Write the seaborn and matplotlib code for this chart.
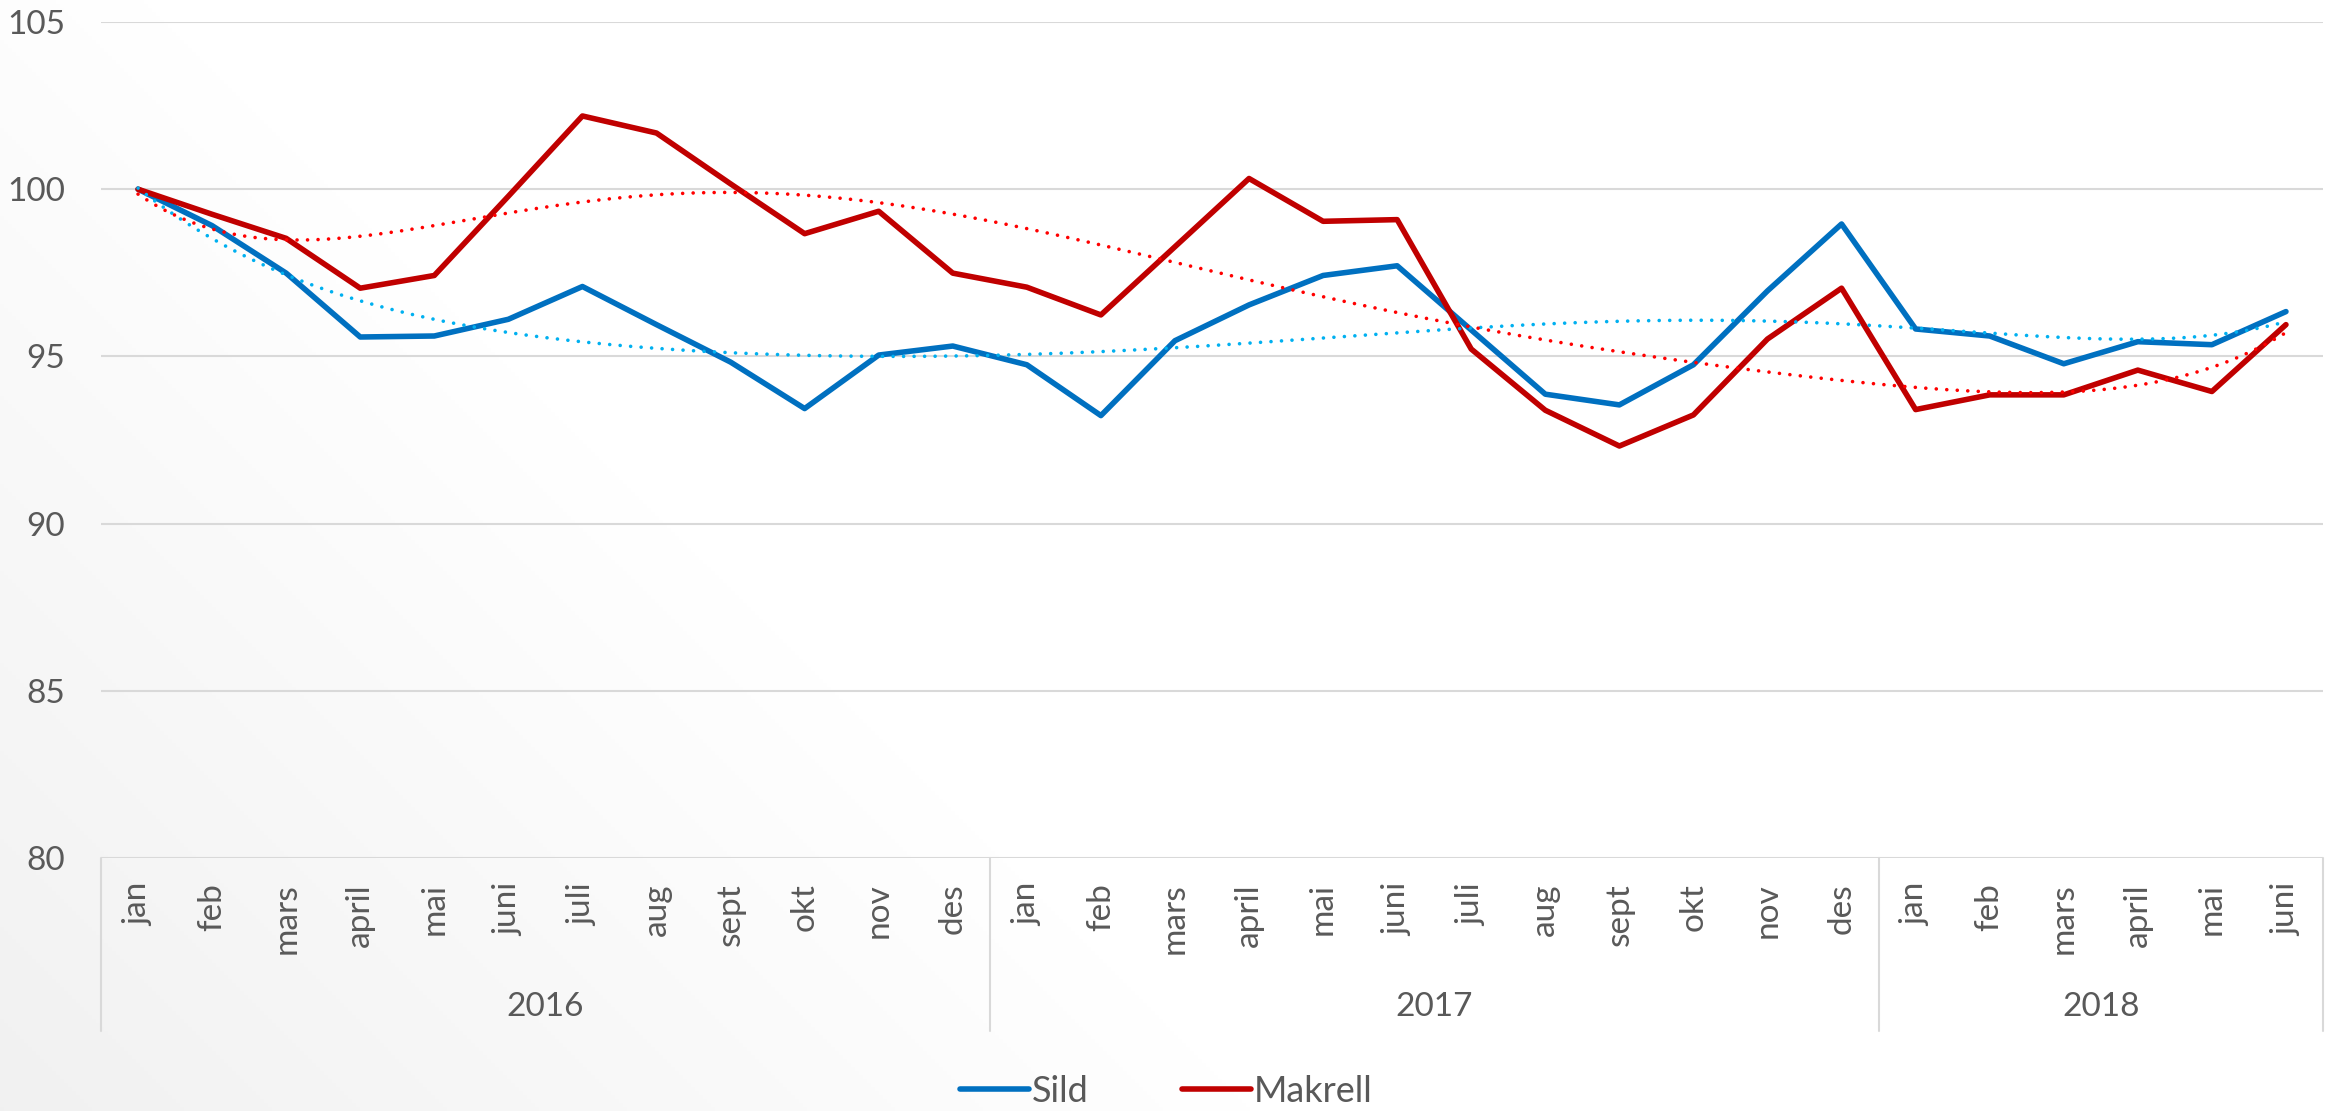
import numpy as np
import pandas as pd
import matplotlib
matplotlib.use("Agg")
import matplotlib.pyplot as plt
from matplotlib.lines import Line2D
import seaborn as sns

# Data
months = ["jan", "feb", "mars", "april", "mai", "juni", "juli", "aug", "sept", "okt", "nov", "des",
          "jan", "feb", "mars", "april", "mai", "juni", "juli", "aug", "sept", "okt", "nov", "des",
          "jan", "feb", "mars", "april", "mai", "juni"]
years = ["2016", "2017", "2018"]
year_counts = [12, 12, 6]

sild = [100.0, 98.91, 97.49, 95.58, 95.61, 96.11, 97.09, 95.95, 94.83, 93.44, 95.04, 95.31,
        94.75, 93.23, 95.47, 96.54, 97.42, 97.71, 95.79, 93.87, 93.55, 94.75, 96.96, 98.96,
        95.82, 95.61, 94.78, 95.44, 95.35, 96.34]
makrell = [100.0, 99.25, 98.53, 97.04, 97.42, 99.79, 102.19, 101.68, 100.16, 98.67, 99.34, 97.49,
           97.07, 96.24, 98.28, 100.32, 99.04, 99.09, 95.22, 93.39, 92.32, 93.25, 95.52, 97.04,
           93.41, 93.85, 93.85, 94.59, 93.95, 95.95]

series_names = ["Sild", "Makrell"]
line_colors = {"Sild": "#0070C0", "Makrell": "#C00000"}
trend_colors = {"Sild": "#00B0F0", "Makrell": "#FF0000"}

TEXT = "#595959"
GRID = "#D9D9D9"
FS = 24

sns.set_theme(style="white")
plt.rcParams["font.family"] = ["Lato", "DejaVu Sans"]

W, H = 2333, 1111
fig = plt.figure(figsize=(W / 100, H / 100), dpi=100)

# subtle diagonal background gradient (grey bottom-left -> white)
bg = fig.add_axes([0, 0, 1, 1], zorder=-10)
xx, yb = np.meshgrid(np.arange(0, W, 4), np.arange(0, H, 4))  # yb measured from bottom
t = np.clip((xx + yb) / 1250.0, 0, 1)
val = 0.945 + 0.055 * t
bg.imshow(np.dstack([val, val, val]), extent=[0, W, 0, H], origin="lower", aspect="auto")
bg.set_axis_off()

left, right = 101 / W, 2323 / W
bottom, top = 1 - 858 / H, 1 - 22 / H
ax = fig.add_axes([left, bottom, right - left, top - bottom])
ax.set_facecolor("none")

n = len(months)
xpos = np.arange(n)
df = pd.DataFrame({"x": np.concatenate([xpos, xpos]),
                   "value": sild + makrell,
                   "serie": ["Sild"] * n + ["Makrell"] * n})

sns.lineplot(data=df, x="x", y="value", hue="serie", palette=line_colors,
             hue_order=series_names, linewidth=4, ax=ax, legend=False, zorder=3)

# polynomial trend lines (order 6), like Excel's trendline
xs = np.linspace(1, n, 400)
for name, vals in zip(series_names, [sild, makrell]):
    coef = np.polyfit(np.arange(1, n + 1), vals, 6)
    ax.plot(xs - 1, np.polyval(coef, xs), color=trend_colors[name], lw=2.6,
            linestyle=(0, (0.01, 2.9)), dash_capstyle="round", zorder=4)

ax.set_xlim(-0.5, n - 0.5)
ax.set_ylim(80, 105)
ax.set_yticks([80, 85, 90, 95, 100, 105])
ax.yaxis.grid(True, color=GRID, lw=1.5)
ax.xaxis.grid(False)
for s in ax.spines.values():
    s.set_visible(False)
ax.tick_params(axis="y", length=0, pad=26, labelsize=FS, labelcolor=TEXT)
ax.set_xticks(xpos)
ax.set_xticklabels(months, rotation=90, fontsize=FS, color=TEXT)
ax.tick_params(axis="x", length=0, pad=18)
ax.set_xlabel("")
ax.set_ylabel("")

# category separators and year labels
trans = ax.get_xaxis_transform()
sep_bottom = (858 - 1031) / (858 - 22)
edges = np.concatenate([[0], np.cumsum(year_counts)]) - 0.5
for e in edges:
    ax.plot([e, e], [0, sep_bottom], transform=trans, color=GRID, lw=1.5, clip_on=False)
year_y = (858 - 1007) / (858 - 22)
for i, yr in enumerate(years):
    ax.text((edges[i] + edges[i + 1]) / 2, year_y, yr, transform=trans, ha="center",
            va="center", fontsize=FS, color=TEXT)

handles = [Line2D([], [], color=line_colors[s], lw=4, solid_capstyle="round") for s in series_names]
leg = fig.legend(handles, series_names, loc="center", bbox_to_anchor=(0.5, 1 - 1091 / H),
                 ncol=2, frameon=False, fontsize=26, handlelength=1.9, handletextpad=0.08,
                 columnspacing=2.6)
for txt in leg.get_texts():
    txt.set_color(TEXT)

fig.savefig("out.png", dpi=100)
